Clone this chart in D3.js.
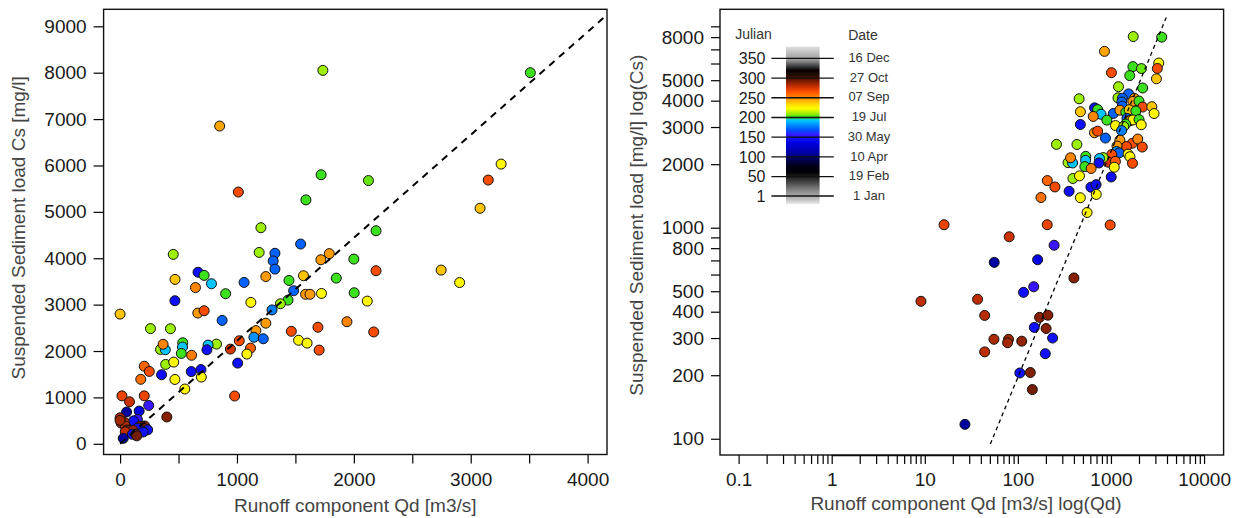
<!DOCTYPE html>
<html><head><meta charset="utf-8">
<script src="https://cdn.jsdelivr.net/npm/d3@7"></script>
<style>
html,body{margin:0;padding:0;background:#fff;}
svg{display:block;font-family:"Liberation Sans",Arial,Helvetica,sans-serif;}
</style></head>
<body><svg id="chart" width="1233" height="518"></svg>
<script>
// ---------- data: runoff component Qd [m3/s], sediment load Cs [mg/l], Julian day ----------
const qd = [1735,3510,852,3260,1720,2125,3150,1012,1590,3080,1205,2190,1545,455,1190,1325,1310,1325,1790,1718,
  2000,2190,2747,2905,470,667,719,782,1061,1247,1445,1569,1850,645,469,903,1119,1485,1587,1625,
  1723,2003,2115,1437,1372,1300,0,665,719,873,1247,260,431,1693,1941,2170,1465,1162,1145,1225,
  1527,1600,1703,1020,944,1116,1085,825,753,743,536,534,524,346,387,368,390,459,612,1006,
  609,692,695,355,469,554,207,250,177,980,
  16.1,206.6,80.7,245,55.7,163,400,148,115,9.1,36.9,44,171,210,201,150,236,55.3,79.4,77.5,
  110,44,197,105,136,143,27,0,0];
const cs = [8050,8000,6850,6030,5800,5675,5686,5427,5258,5078,4658,4593,4306,4083,4125,4107,3942,3766,4100,3968,
  3982,3731,3745,3476,3544,3698,3630,3450,3479,3605,3522,3623,3572,3368,3084,3235,3048,3299,3223,3223,
  3241,3256,3076,3098,3019,2886,2796,2818,2868,2660,2600,2483,2480,2512,2631,2411,2425,2440,2296,2264,
  2232,2170,2020,2221,2041,2063,1934,2149,2128,2027,2178,2085,1948,2034,2027,2145,1711,1761,1908,1739,
  1556,1600,1438,1488,1387,1181,1672,1560,1390,1030,
  1033,1033,906,826,685,705,578,525,494,448,458,384,376,385,333,337,300,296,296,285,
  290,258,253,205,206,171,117,560,505];
const julian = [210,201,245,225,201,205,267,267,201,238,210,201,172,210,210,172,172,172,247,247,
  201,267,238,225,238,148,201,192,172,247,201,238,201,252,148,201,225,172,247,247,
  225,201,225,201,210,178,238,247,267,172,247,210,210,267,252,267,267,247,182,172,
  225,225,267,267,275,262,225,210,192,148,201,192,201,210,192,252,210,225,254,148,
  148,148,225,148,225,225,260,267,257,267,
  270,270,277,156,109,135,290,156,150,280,280,281,290,290,290,150,150,283,285,285,
  288,280,150,150,291,293,109,283,285];

// fitted lines (dashed)
const fitLinQd = [0, 4300];
const fitLinCs = [0, 9546];
const fitLogQd = [50.6, 4027];
const fitLogCs = [94.4, 10190];

// axis ticks
const linXTicks = [0,500,1000,1500,2000,2500,3000,3500,4000];
const linXLabels = [0,1000,2000,3000,4000];
const linYTicks = [0,1000,2000,3000,4000,5000,6000,7000,8000,9000];
const logXLabels = [0.1,1,10,100,1000,10000];
const logYLabels = [100,200,300,400,500,800,1000,2000,3000,4000,5000,8000];

// legend
const legendJulian = [1,50,100,150,200,250,300,350];
const legendDates = ["1 Jan","19 Feb","10 Apr","30 May","19 Jul","07 Sep","27 Oct","16 Dec"];

// colour ramp for Julian day
const rampDays = [-20,-9,16,42,59,75,92,109,135,150,156,168,185,194,200,211,223,236,249,265,278,295,308,320,346,379,390];
const rampCols = ["#eeeeee","#c4c4c4","#848484","#333333","#050505","#000012","#000050","#0000a0","#0000e0","#1010ff","#3a18ff",
  "#0050ff","#00a0ff","#00d0ff","#30e020","#a8f000","#ffff00","#ffd000","#ff9000","#ff5000","#c83000","#6a1a00",
  "#200800","#050505","#9a9a9a","#dddddd","#eeeeee"];
const color = d3.scaleLinear().domain(rampDays).range(rampCols).interpolate(d3.interpolateRgb).clamp(true);

const pts = qd.map((q,i)=>({q, c:cs[i], j:julian[i]}));

const svg = d3.select("#chart");
const defs = svg.append("defs");

const FONT = 19;
const tickCol = "#1a1a1a", titleCol = "#444";
const R_PT = 5;

// ---------------- Left panel ----------------
const L = {l:103.6, r:607, t:9.3, b:454.5};
const xL = d3.scaleLinear().domain([-141,4166]).range([L.l,L.r]);
const yL = d3.scaleLinear().domain([-231,9367]).range([L.b,L.t]);

defs.append("clipPath").attr("id","clipL").append("rect")
  .attr("x",L.l).attr("y",L.t).attr("width",L.r-L.l).attr("height",L.b-L.t);

const gL = svg.append("g");
const axL = gL.append("g").attr("transform",`translate(0,${L.b})`)
  .call(d3.axisBottom(xL).tickValues(linXTicks).tickSize(9).tickFormat(d=>linXLabels.includes(d)?d:""));
const ayL = gL.append("g").attr("transform",`translate(${L.l},0)`)
  .call(d3.axisLeft(yL).tickValues(linYTicks).tickSize(10).tickFormat(d=>d));
[axL,ayL].forEach(a=>{
  a.select(".domain").remove();
  a.selectAll("line").attr("stroke","#000").attr("stroke-width",1.2);
  a.selectAll("text").attr("font-size",FONT).attr("fill",tickCol).attr("font-family","Liberation Sans, Arial, sans-serif");
});
axL.selectAll("text").attr("dy","0.71em").attr("y",18);
ayL.selectAll("text").attr("x",-17);

gL.append("g").attr("clip-path","url(#clipL)").selectAll("circle").data(pts).join("circle")
  .attr("cx",d=>xL(d.q)).attr("cy",d=>yL(d.c)).attr("r",R_PT)
  .attr("fill",d=>color(d.j)).attr("stroke","#111").attr("stroke-width",1);

gL.append("path").attr("clip-path","url(#clipL)")
  .attr("d",d3.line()([[xL(fitLinQd[0]),yL(fitLinCs[0])],[xL(fitLinQd[1]),yL(fitLinCs[1])]]))
  .attr("stroke","#000").attr("stroke-width",2).attr("stroke-dasharray","7,6").attr("fill","none");

gL.append("rect").attr("x",L.l).attr("y",L.t).attr("width",L.r-L.l).attr("height",L.b-L.t)
  .attr("fill","none").attr("stroke","#111").attr("stroke-width",1.4);

gL.append("text").attr("x",(L.l+L.r)/2).attr("y",512).attr("text-anchor","middle")
  .attr("font-size",FONT).attr("fill",titleCol).text("Runoff component Qd [m3/s]");
gL.append("text").attr("transform",`translate(25,${(L.t+L.b)/2 - 4}) rotate(-90)`).attr("text-anchor","middle")
  .attr("font-size",FONT).attr("fill",titleCol).text("Suspended Sediment load Cs [mg/l]");

// ---------------- Right panel ----------------
const R = {l:720, r:1223.6, t:9.3, b:455};
const xR = d3.scaleLog().domain([Math.pow(10,-1.2),Math.pow(10,4.21)]).range([R.l,R.r]);
const yR = d3.scaleLog().domain([Math.pow(10,1.923),Math.pow(10,4.035)]).range([R.b,R.t]);

defs.append("clipPath").attr("id","clipR").append("rect")
  .attr("x",R.l).attr("y",R.t).attr("width",R.r-R.l).attr("height",R.b-R.t);

const logXTicks = [];
for (let e=-1;e<=3;e++) for (let k=1;k<=9;k++) logXTicks.push(+(k*Math.pow(10,e)).toPrecision(3));
logXTicks.push(10000);
const logYTicks = [];
for (let e=2;e<=3;e++) for (let k=1;k<=9;k++) logYTicks.push(k*Math.pow(10,e));

const gR = svg.append("g");
const axR = gR.append("g").attr("transform",`translate(0,${R.b})`)
  .call(d3.axisBottom(xR).tickValues(logXTicks).tickSize(9)
    .tickFormat(d=>logXLabels.some(v=>Math.abs(v-d)<1e-9)?String(d):""));
const ayR = gR.append("g").attr("transform",`translate(${R.l},0)`)
  .call(d3.axisLeft(yR).tickValues(logYTicks).tickSize(9)
    .tickFormat(d=>logYLabels.includes(d)?String(d):""));
[axR,ayR].forEach(a=>{
  a.select(".domain").remove();
  a.selectAll("line").attr("stroke","#000").attr("stroke-width",1.2);
  a.selectAll("text").attr("font-size",FONT).attr("fill",tickCol).attr("font-family","Liberation Sans, Arial, sans-serif");
});
axR.selectAll("text").attr("dy","0.71em").attr("y",18);
ayR.selectAll("text").attr("x",-16);
gR.append("line").attr("x1",xR(1)).attr("x2",xR(10000)).attr("y1",R.b+0.5).attr("y2",R.b+0.5)
  .attr("stroke","#000").attr("stroke-width",1.6);

gR.append("g").attr("clip-path","url(#clipR)").selectAll("circle").data(pts.filter(d=>d.q>0)).join("circle")
  .attr("cx",d=>xR(d.q)).attr("cy",d=>yR(d.c)).attr("r",R_PT)
  .attr("fill",d=>color(d.j)).attr("stroke","#111").attr("stroke-width",1);

gR.append("path").attr("clip-path","url(#clipR)")
  .attr("d",d3.line()([[xR(fitLogQd[0]),yR(fitLogCs[0])],[xR(fitLogQd[1]),yR(fitLogCs[1])]]))
  .attr("stroke","#000").attr("stroke-width",1.3).attr("stroke-dasharray","4,3.5").attr("fill","none");

gR.append("rect").attr("x",R.l).attr("y",R.t).attr("width",R.r-R.l).attr("height",R.b-R.t)
  .attr("fill","none").attr("stroke","#111").attr("stroke-width",1.4);

gR.append("text").attr("x",966).attr("y",510).attr("text-anchor","middle")
  .attr("font-size",FONT).attr("fill",titleCol).text("Runoff component Qd [m3/s] log(Qd)");
gR.append("text").attr("transform",`translate(643,${(R.t+R.b)/2 - 7}) rotate(-90)`).attr("text-anchor","middle")
  .attr("font-size",FONT).attr("fill",titleCol).text("Suspended Sediment load [mg/l] log(Cs)");

// ---------------- Legend ----------------
const yLeg = d3.scaleLinear().domain([1,350]).range([196,58.3]);
const barTop = 46.7, barBot = 204, barX0 = 786, barX1 = 819.6;
const dTop = yLeg.invert(barTop), dBot = yLeg.invert(barBot);
const grad = defs.append("linearGradient").attr("id","ramp").attr("x1",0).attr("x2",0).attr("y1",0).attr("y2",1);
d3.range(0,1.0001,0.01).forEach(t=>{
  grad.append("stop").attr("offset",t).attr("stop-color",color(dTop + (dBot-dTop)*t));
});
const blur = defs.append("filter").attr("id","soft").attr("x","-20%").attr("y","-5%").attr("width","140%").attr("height","110%");
blur.append("feGaussianBlur").attr("stdDeviation",0.7);

const gLeg = gR.append("g");
gLeg.append("rect").attr("x",barX0).attr("y",barTop).attr("width",barX1-barX0).attr("height",barBot-barTop)
  .attr("fill","url(#ramp)").attr("filter","url(#soft)");
gLeg.selectAll("line.lg").data(legendJulian).join("line").attr("class","lg")
  .attr("x1",771.4).attr("x2",833.8).attr("y1",d=>yLeg(d)).attr("y2",d=>yLeg(d))
  .attr("stroke","#111").attr("stroke-width",1.3);
gLeg.selectAll("text.jl").data(legendJulian).join("text").attr("class","jl")
  .attr("x",765.5).attr("y",d=>yLeg(d)).attr("dy","0.36em").attr("text-anchor","end")
  .attr("font-size",16).attr("fill",tickCol).text(d=>d);
gLeg.selectAll("text.dl").data(legendDates).join("text").attr("class","dl")
  .attr("x",869).attr("y",(d,i)=>yLeg(legendJulian[i])-1).attr("dy","0.36em").attr("text-anchor","middle")
  .attr("font-size",13).attr("fill","#333").text(d=>d);
gLeg.append("text").attr("x",753.5).attr("y",34).attr("dy","0.36em").attr("text-anchor","middle")
  .attr("font-size",14).attr("fill","#333").text("Julian");
gLeg.append("text").attr("x",863).attr("y",35).attr("dy","0.36em").attr("text-anchor","middle")
  .attr("font-size",14).attr("fill","#333").text("Date");
</script>
</body></html>
